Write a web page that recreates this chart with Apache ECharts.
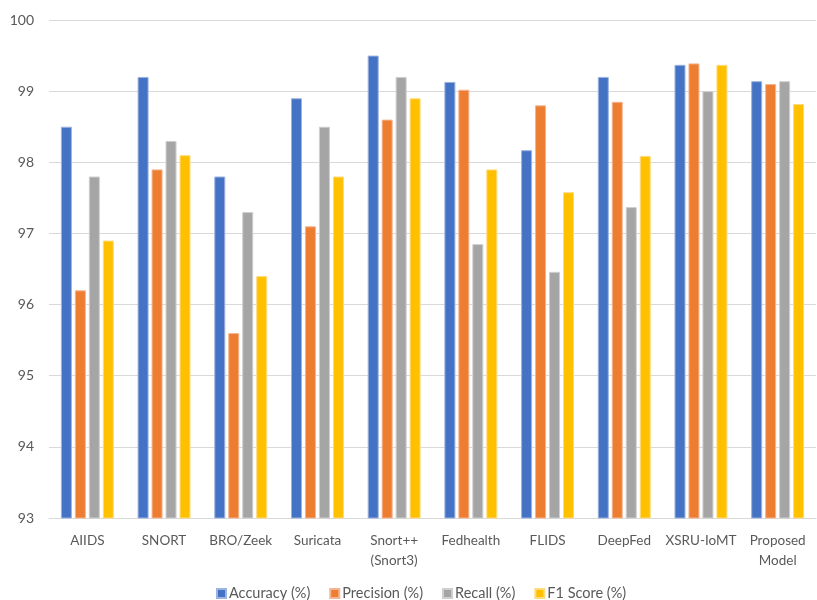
<!DOCTYPE html>
<html><head><meta charset="utf-8">
<script src="https://cdn.jsdelivr.net/npm/echarts@6/dist/echarts.min.js"></script>
<style>html,body{margin:0;padding:0;background:#fff}#c{width:817px;height:600px}</style>
</head><body><div id="c"></div>
<script>
const categories = ['AIIDS','SNORT','BRO/Zeek','Suricata','Snort++\n(Snort3)','Fedhealth','FLIDS','DeepFed','XSRU-IoMT','Proposed\nModel'];
const accuracy  = [98.5, 99.2, 97.8, 98.9, 99.5, 99.13, 98.17, 99.2, 99.37, 99.14];
const precision = [96.2, 97.9, 95.6, 97.1, 98.6, 99.02, 98.8, 98.85, 99.39, 99.1];
const recall    = [97.8, 98.3, 97.3, 98.5, 99.2, 96.85, 96.46, 97.37, 99.0, 99.14];
const f1        = [96.9, 98.1, 96.4, 97.8, 98.9, 97.9, 97.58, 98.09, 99.37, 98.82];
const seriesNames = ['Accuracy (%)','Precision (%)','Recall (%)','F1 Score (%)'];
const colors = ['#4472C4','#ED7D31','#A5A5A5','#FFC000'];
const borders = ['#9DB3E0','#F5B592','#CFCFCF','#FFDB80'];
const yTicks = {min: 93, max: 100, interval: 1};

const font = 'Lato, "Open Sans", sans-serif';
const data = [accuracy, precision, recall, f1];
const chart = echarts.init(document.getElementById('c'));
chart.setOption({
  animation: false,
  textStyle: {fontFamily: font},
  grid: {left: 49, right: 1, top: 20, bottom: 82, containLabel: false},
  legend: {
    bottom: -6, left: 211, itemWidth: 9, itemHeight: 9, itemGap: 19,
    icon: 'rect',
    textStyle: {fontFamily: font, fontSize: 14.5, color: '#595959', padding: [0,0,0,-2]},
    data: seriesNames
  },
  xAxis: {
    type: 'category', data: categories,
    axisLine: {show: true, lineStyle: {color: '#D9D9D9'}},
    axisTick: {show: false},
    axisLabel: {fontFamily: font, fontSize: 13.5, color: '#595959', margin: 13, lineHeight: 20, interval: 0}
  },
  yAxis: {
    type: 'value', min: yTicks.min, max: yTicks.max, interval: yTicks.interval,
    axisLine: {show: false}, axisTick: {show: false},
    splitLine: {lineStyle: {color: '#D9D9D9', width: 1}},
    axisLabel: {fontFamily: font, fontSize: 14, color: '#595959', margin: 15}
  },
  series: seriesNames.map((n, i) => ({
    name: n, type: 'bar', data: data[i],
    barGap: '27%', barCategoryGap: '31%',
    itemStyle: {color: colors[i], borderColor: borders[i], borderWidth: 1}
  }))
});
</script></body></html>
